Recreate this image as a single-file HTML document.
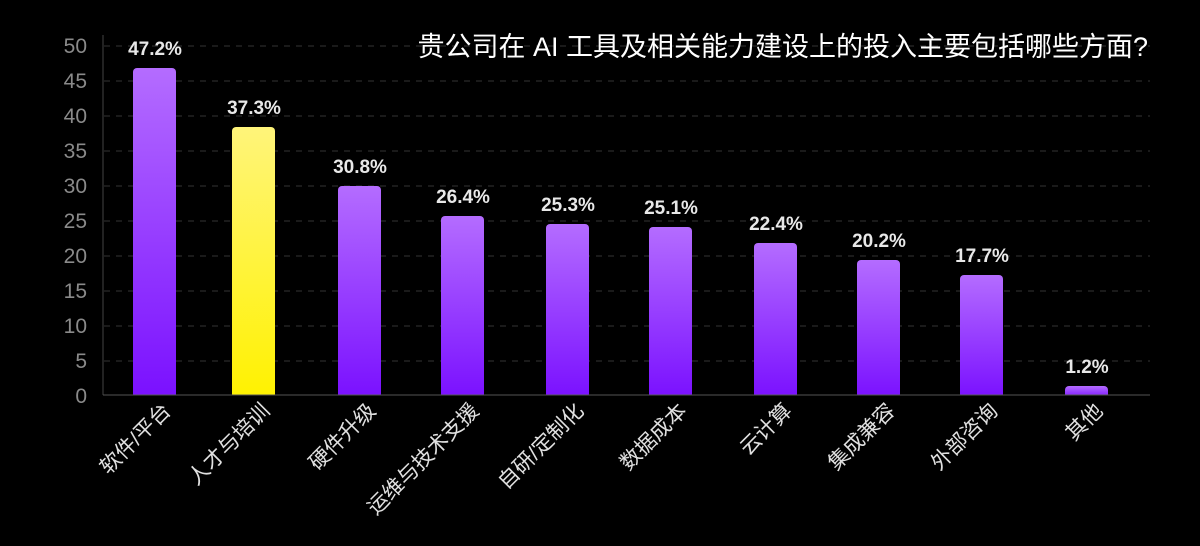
<!DOCTYPE html>
<html><head><meta charset="utf-8"><style>
body{margin:0;background:#000;}
#c{position:relative;width:1200px;height:546px;background:#000;overflow:hidden;font-family:"Liberation Sans","Noto Sans CJK SC",sans-serif;}
</style></head><body><div id="c">
<svg width="1200" height="546" style="position:absolute;left:0;top:0">
<defs>
<linearGradient id="p" x1="0" y1="0" x2="0" y2="1"><stop offset="0" stop-color="#b46cff"/><stop offset="1" stop-color="#7a10ff"/></linearGradient>
<linearGradient id="y" x1="0" y1="0" x2="0" y2="1"><stop offset="0" stop-color="#fff47a"/><stop offset="1" stop-color="#fff200"/></linearGradient>
</defs>
<g stroke="#333" stroke-width="1" stroke-dasharray="6,6">
<line x1="104" x2="1150" y1="46" y2="46"/><line x1="104" x2="1150" y1="81" y2="81"/><line x1="104" x2="1150" y1="116" y2="116"/><line x1="104" x2="1150" y1="151" y2="151"/><line x1="104" x2="1150" y1="186" y2="186"/><line x1="104" x2="1150" y1="221" y2="221"/><line x1="104" x2="1150" y1="256" y2="256"/><line x1="104" x2="1150" y1="291" y2="291"/><line x1="104" x2="1150" y1="326" y2="326"/><line x1="104" x2="1150" y1="361" y2="361"/>
</g>
<line x1="103" y1="35" x2="103" y2="395" stroke="#444"/>
<g fill="#8a8a8a" font-size="21" text-anchor="end" font-family="Liberation Sans,sans-serif">
<text x="87" y="53">50</text><text x="87" y="88">45</text><text x="87" y="123">40</text><text x="87" y="158">35</text><text x="87" y="193">30</text><text x="87" y="228">25</text><text x="87" y="263">20</text><text x="87" y="298">15</text><text x="87" y="333">10</text><text x="87" y="368">5</text><text x="87" y="403">0</text>
</g>
<g>
<rect x="133" y="68" width="43" height="330" rx="4" fill="url(#p)"/>
<rect x="232" y="127" width="43" height="271" rx="4" fill="url(#y)"/>
<rect x="338" y="186" width="43" height="212" rx="4" fill="url(#p)"/>
<rect x="441" y="216" width="43" height="182" rx="4" fill="url(#p)"/>
<rect x="546" y="224" width="43" height="174" rx="4" fill="url(#p)"/>
<rect x="649" y="227" width="43" height="171" rx="4" fill="url(#p)"/>
<rect x="754" y="243" width="43" height="155" rx="4" fill="url(#p)"/>
<rect x="857" y="260" width="43" height="138" rx="4" fill="url(#p)"/>
<rect x="960" y="275" width="43" height="123" rx="4" fill="url(#p)"/>
<rect x="1065" y="386" width="43" height="12" rx="4" fill="url(#p)"/>
</g>
<rect x="100" y="395" width="1060" height="20" fill="#000"/>
<line x1="103" y1="395" x2="1150" y2="395" stroke="#555"/>
<g fill="#e8e8e8" font-size="19" font-weight="bold" text-anchor="middle" font-family="Liberation Sans,sans-serif">
<text x="155" y="55">47.2%</text><text x="254" y="114">37.3%</text><text x="360" y="173">30.8%</text><text x="463" y="203">26.4%</text><text x="568" y="211">25.3%</text><text x="671" y="214">25.1%</text><text x="776" y="230">22.4%</text><text x="879" y="247">20.2%</text><text x="982" y="262">17.7%</text><text x="1087" y="373">1.2%</text>
</g>
<g fill="#e0e0e0" font-size="21" text-anchor="end" font-family="Liberation Sans,Noto Sans CJK SC,sans-serif">
<text transform="translate(172,412) rotate(-45)">软件/平台</text>
<text transform="translate(271,412) rotate(-45)">人才与培训</text>
<text transform="translate(377,412) rotate(-45)">硬件升级</text>
<text transform="translate(480,412) rotate(-45)">运维与技术支援</text>
<text transform="translate(585,412) rotate(-45)">自研/定制化</text>
<text transform="translate(688,412) rotate(-45)">数据成本</text>
<text transform="translate(793,412) rotate(-45)">云计算</text>
<text transform="translate(896,412) rotate(-45)">集成兼容</text>
<text transform="translate(999,412) rotate(-45)">外部咨询</text>
<text transform="translate(1104,412) rotate(-45)">其他</text>
</g>
<text x="1148" y="56" fill="#fff" font-size="27" text-anchor="end" font-family="Liberation Sans,Noto Sans CJK SC,sans-serif">贵公司在 AI 工具及相关能力建设上的投入主要包括哪些方面?</text>
</svg>
</div></body></html>
